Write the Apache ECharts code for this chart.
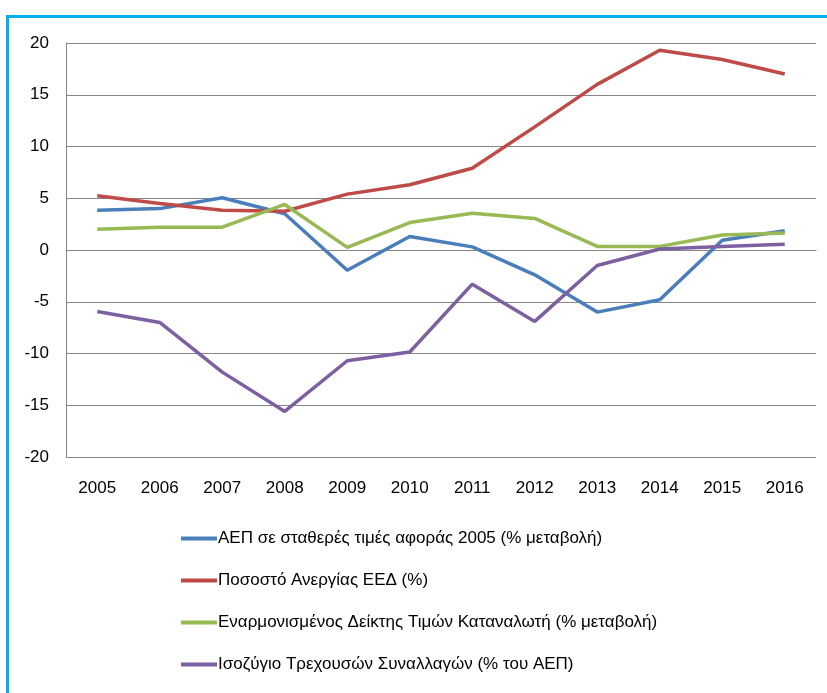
<!DOCTYPE html>
<html><head><meta charset="utf-8">
<script src="https://cdn.jsdelivr.net/npm/echarts@6/dist/echarts.min.js"></script>
<style>html,body{margin:0;padding:0;background:#fff}#c{width:827px;height:693px}</style>
</head><body><div id="c"></div>
<script>
const years = ['2005','2006','2007','2008','2009','2010','2011','2012','2013','2014','2015','2016'];
const seriesNames = [
  'ΑΕΠ σε σταθερές τιμές αφοράς 2005 (% μεταβολή)',
  'Ποσοστό Ανεργίας ΕΕΔ (%)',
  'Εναρμονισμένος Δείκτης Τιμών Καταναλωτή (% μεταβολή)',
  'Ισοζύγιο Τρεχουσών Συναλλαγών (% του ΑΕΠ)'
];
const gdp = [3.85, 4.0, 5.05, 3.5, -1.95, 1.3, 0.3, -2.4, -6.0, -4.8, 0.95, 1.85];
const unemployment = [5.25, 4.5, 3.85, 3.75, 5.4, 6.3, 7.9, 11.9, 16.0, 19.3, 18.4, 17.0];
const hicp = [2.0, 2.2, 2.2, 4.4, 0.25, 2.65, 3.55, 3.05, 0.35, 0.35, 1.45, 1.65];
const currentAccount = [-5.95, -7.0, -11.8, -15.6, -10.7, -9.85, -3.3, -6.9, -1.5, 0.1, 0.35, 0.55];
const colors = ['#4a7ebb', '#be4b48', '#98b954', '#7d60a0'];
const valuesList = [gdp, unemployment, hicp, currentAccount];
const font = '"Liberation Sans Narrow", "Liberation Sans", sans-serif';

const chart = echarts.init(document.getElementById('c'));
chart.setOption({
  animation: false,
  color: colors,
  grid: {left: 66, right: 11, top: 43, bottom: 236, containLabel: false},
  graphic: [{
    type: 'rect', left: 5, top: 14, z: -1,
    shape: {x: 0, y: 0, width: 900, height: 800},
    style: {fill: 'none', stroke: '#00b0f0', lineWidth: 3}
  }],
  xAxis: {
    type: 'category', data: years, boundaryGap: true,
    axisLine: {show: true, lineStyle: {color: '#868686', width: 1}},
    axisTick: {show: false},
    axisLabel: {color: '#000', fontFamily: font, fontSize: 17, margin: 23}
  },
  yAxis: {
    type: 'value', min: -20, max: 20, interval: 5,
    axisLine: {show: true, lineStyle: {color: '#868686', width: 1}},
    axisTick: {show: false},
    splitLine: {lineStyle: {color: '#868686', width: 1}},
    axisLabel: {color: '#000', fontFamily: font, fontSize: 17, margin: 17}
  },
  legend: {
    orient: 'vertical', left: 176, top: 525, itemGap: 25,
    itemWidth: 36, itemHeight: 4,
    icon: 'rect',
    textStyle: {color: '#000', fontFamily: font, fontSize: 17, padding: [0,0,0,-4]},
    data: seriesNames
  },
  series: seriesNames.map((n, i) => ({
    name: n, type: 'line', data: valuesList[i],
    symbol: 'none', lineStyle: {width: 3.5, color: colors[i]},
    itemStyle: {color: colors[i]}
  }))
});
</script></body></html>
